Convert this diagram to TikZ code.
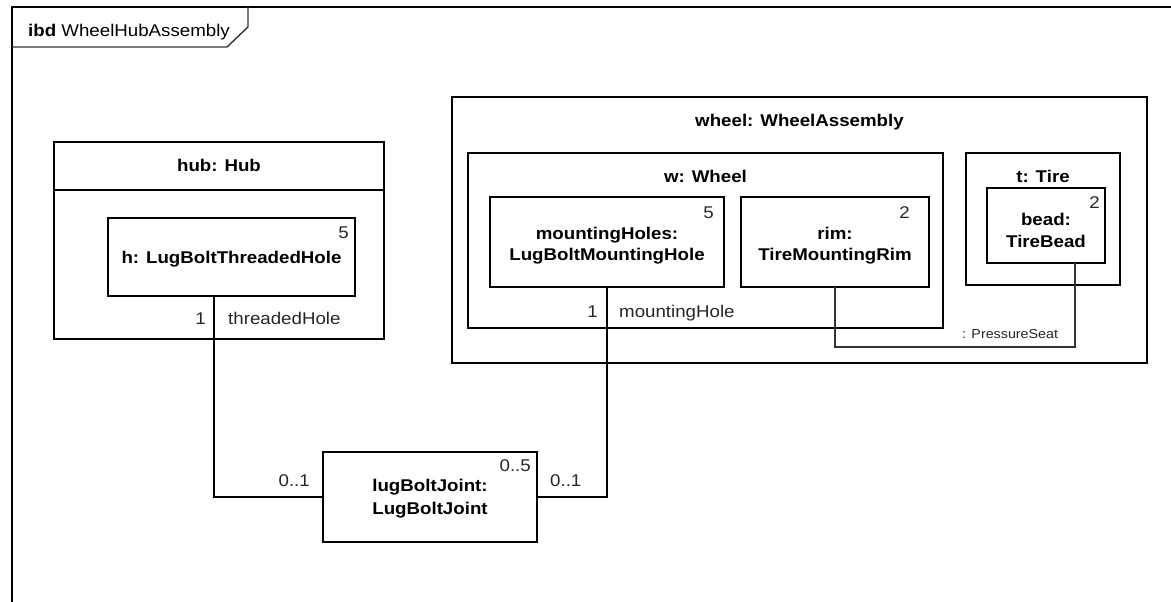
\documentclass[tikz,border=0pt]{standalone}
\usepackage{fontspec}
\setmainfont{Liberation Sans}[FakeStretch=1.1]
\begin{document}
\begin{tikzpicture}[x=1pt,y=-1pt,
  partbox/.style={draw, line width=2.4pt, inner sep=0pt, outer sep=0pt},
  joinline/.style={line width=2.2pt},
  seatline/.style={line width=1.3pt, draw=black!80},
  frameline/.style={line width=2pt},
  tabline/.style={line width=1.4pt, draw=black!80},
  partname/.style={font=\fontsize{17}{21}\selectfont\bfseries, anchor=base, inner sep=0pt},
  rolelbl/.style={font=\fontsize{17}{21}\selectfont, anchor=base west, inner sep=0pt, text=black!85},
  multlbl/.style={font=\fontsize{17}{21}\selectfont, anchor=base east, inner sep=0pt, text=black!85},
  seatlbl/.style={font=\fontsize{13}{15}\selectfont, anchor=base west, inner sep=0pt, text=black!85}]

\useasboundingbox (0,0) rectangle (1171,602);

% diagram frame with its name tab
\draw[frameline] (12,602) -- (12,7) -- (1171,7);
\draw[tabline] (12,47) -- (227,47) -- (248,27) -- (248,7);
\node[rolelbl, text=black] (frametitle) at (28,37) {\textbf{ibd} WheelHubAssembly};

% hub
\node[partbox, minimum width=330pt, minimum height=197pt] (hub) at (219,240.5) {};
\draw[partbox] ([yshift=-48pt]hub.north west) -- ([yshift=-48pt]hub.north east);
\node[partname] (hubname) at (219,171) {hub: Hub};
\node[partbox, minimum width=247pt, minimum height=78pt] (h) at (231.5,257) {};
\node[partname] (hname) at (231.5,263) {h: LugBoltThreadedHole};
\node[multlbl] (hmult) at (349,238) {5};
\node[multlbl] (hend) at (206,324) {1};
\node[rolelbl] (hrole) at (228,324) {threadedHole};

% wheel assembly
\node[partbox, minimum width=695pt, minimum height=266pt] (wheel) at (799.5,230) {};
\node[partname] (wheelname) at (799.5,127) {wheel: WheelAssembly};

\node[partbox, minimum width=475pt, minimum height=175pt] (w) at (705.5,240.5) {};
\node[partname] (wname) at (705.5,182) {w: Wheel};

\node[partbox, minimum width=234pt, minimum height=90pt] (mh) at (607,242) {};
\node[partname] (mhname1) at (607,239) {mountingHoles:};
\node[partname] (mhname2) at (607,260) {LugBoltMountingHole};
\node[multlbl] (mhmult) at (714,218) {5};

\node[partbox, minimum width=188pt, minimum height=90pt] (rim) at (835,242) {};
\node[partname] (rimname1) at (835,239) {rim:};
\node[partname] (rimname2) at (835,260) {TireMountingRim};
\node[multlbl] (rimmult) at (910,218) {2};

\node[partbox, minimum width=154pt, minimum height=132pt] (tire) at (1043,219) {};
\node[partname] (tirename) at (1043,182) {t: Tire};

\node[partbox, minimum width=118pt, minimum height=75pt] (bead) at (1046,225.5) {};
\node[partname] (beadname1) at (1046,225) {bead:};
\node[partname] (beadname2) at (1046,247) {TireBead};
\node[multlbl] (beadmult) at (1100,208) {2};

\node[multlbl] (mhend) at (598,317) {1};
\node[rolelbl] (mhrole) at (619,317) {mountingHole};

% lug bolt joint
\node[partbox, minimum width=214pt, minimum height=90pt] (lbj) at (430,497) {};
\node[partname] (lbjname1) at (430,491) {lugBoltJoint:};
\node[partname] (lbjname2) at (430,514) {LugBoltJoint};
\node[multlbl] (lbjmult) at (531,471) {0..5};
\node[multlbl] (lbjleft) at (310,486) {0..1};
\node[rolelbl] (lbjright) at (550,486) {0..1};

% connectors
\draw[joinline] ([xshift=-17.5pt]h.south) |- (lbj.west);
\draw[joinline] (mh.south) |- (lbj.east);
\coordinate (seatlow) at (0,347);
\draw[seatline] (rim.south) -- (rim.south |- seatlow) -| ([xshift=29pt]bead.south);
\node[seatlbl] (seatname) at (962,338) {: PressureSeat};
\end{tikzpicture}
\end{document}
